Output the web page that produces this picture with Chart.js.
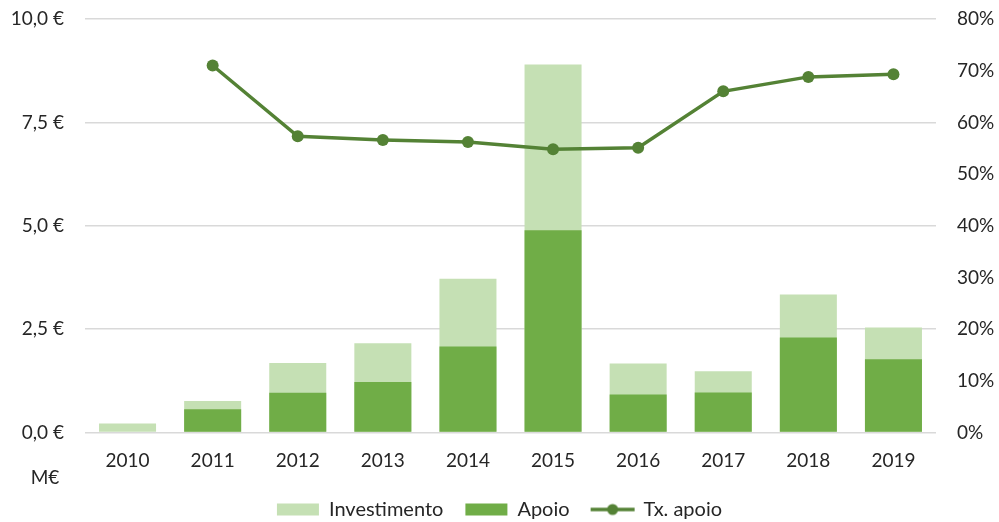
<!DOCTYPE html>
<html>
<head>
<meta charset="utf-8">
<script src="https://cdn.jsdelivr.net/npm/chart.js@4"></script>
<style>
  html, body { margin: 0; padding: 0; background: #fff; }
  #wrap { width: 999px; height: 522px; }
</style>
</head>
<body>
<div id="wrap"><canvas id="myChart"></canvas></div>
<script>
// dados
var anos = ['2010', '2011', '2012', '2013', '2014', '2015', '2016', '2017', '2018', '2019'];
var investimento = [0.22, 0.76, 1.68, 2.16, 3.72, 8.90, 1.67, 1.48, 3.34, 2.54];
var apoio = [null, 0.56, 0.96, 1.22, 2.08, 4.89, 0.92, 0.97, 2.30, 1.77];
var txApoio = [null, 71.0, 57.3, 56.6, 56.2, 54.8, 55.1, 66.0, 68.8, 69.3];

var corInvest = '#C5E0B4';
var corApoio = '#70AD47';
var corTx = '#548235';
var corTexto = '#262626';

Chart.defaults.font.family = 'Lato, "Open Sans", sans-serif';
Chart.defaults.font.size = 19;
Chart.defaults.color = corTexto;

// simbolo da legenda para a linha
var simbolo = document.createElement('canvas');
simbolo.width = 46;
simbolo.height = 14;
var sctx = simbolo.getContext('2d');
sctx.strokeStyle = corTx;
sctx.lineWidth = 3.5;
sctx.beginPath();
sctx.moveTo(1, 7);
sctx.lineTo(45, 7);
sctx.stroke();
sctx.fillStyle = corTx;
sctx.beginPath();
sctx.arc(23, 7, 5.5, 0, Math.PI * 2);
sctx.fill();

var rotuloME = {
    id: 'rotuloME',
    afterDraw: function(chart){
        var ctx = chart.ctx;
        ctx.save();
        ctx.font = '19px Lato, "Open Sans", sans-serif';
        ctx.fillStyle = corTexto;
        ctx.textAlign = 'center';
        ctx.textBaseline = 'middle';
        ctx.fillText('M€', 45, chart.chartArea.bottom + 45);
        ctx.restore();
    }
};

// largura fixa dos eixos verticais, sem folga extra em cima/baixo
function ajustaEixo(largura){
    return function(scale){
        scale.width = largura;
        scale.paddingTop = 0;
        scale.paddingBottom = 0;
    };
}

var ctx = document.getElementById('myChart');
var myChart = new Chart(ctx, {
    type: 'bar',
    data: {
        labels: anos,
        datasets: [{
            label: 'Investimento',
            data: investimento,
            backgroundColor: corInvest,
            order: 3,
            yAxisID: 'y'
        }, {
            label: 'Apoio',
            data: apoio,
            backgroundColor: corApoio,
            order: 2,
            yAxisID: 'y'
        }, {
            type: 'line',
            label: 'Tx. apoio',
            data: txApoio,
            borderColor: corTx,
            backgroundColor: corTx,
            borderWidth: 3.5,
            pointRadius: 6,
            pointHoverRadius: 6,
            pointBackgroundColor: corTx,
            pointBorderWidth: 0,
            tension: 0,
            order: 1,
            yAxisID: 'y1'
        }]
    },
    plugins: [rotuloME],
    options: {
        responsive: true,
        maintainAspectRatio: false,
        animation: false,
        datasets: {
            bar: { barPercentage: 0.67, categoryPercentage: 1 }
        },
        layout: { padding: { top: 19, left: 0, right: 0, bottom: -7.5 } },
        plugins: {
            tooltip: { enabled: false },
            legend: {
                position: 'bottom',
                labels: {
                    usePointStyle: true,
                    pointStyleWidth: 42,
                    boxHeight: 12,
                    padding: 22,
                    color: corTexto,
                    font: { size: 20 },
                    generateLabels: function(chart){
                        return chart.data.datasets.map(function(ds, i){
                            return {
                                text: ds.label,
                                datasetIndex: i,
                                fillStyle: ds.backgroundColor,
                                strokeStyle: ds.backgroundColor,
                                lineWidth: 0,
                                fontColor: corTexto,
                                pointStyle: ds.type === 'line' ? simbolo : 'rect',
                                hidden: false
                            };
                        });
                    }
                }
            }
        },
        scales: {
            x: {
                stacked: true,
                grid: { display: false },
                border: { display: false },
                ticks: { padding: 9, color: corTexto },
                afterFit: function(scale){ scale.height = 45; }
            },
            y: {
                stacked: false,
                position: 'left',
                min: 0,
                max: 10,
                ticks: {
                    stepSize: 2.5,
                    padding: 21,
                    color: corTexto,
                    callback: function(v){ return v.toFixed(1).replace('.', ',') + ' €'; }
                },
                grid: { color: '#D9D9D9', lineWidth: 1.5, drawTicks: false },
                border: { display: false },
                afterFit: ajustaEixo(85)
            },
            y1: {
                position: 'right',
                min: 0,
                max: 80,
                ticks: {
                    stepSize: 10,
                    padding: 21,
                    color: corTexto,
                    callback: function(v){ return v + '%'; }
                },
                grid: { drawOnChartArea: false, drawTicks: false },
                border: { display: false },
                afterFit: ajustaEixo(63)
            }
        }
    }
});
</script>
</body>
</html>
